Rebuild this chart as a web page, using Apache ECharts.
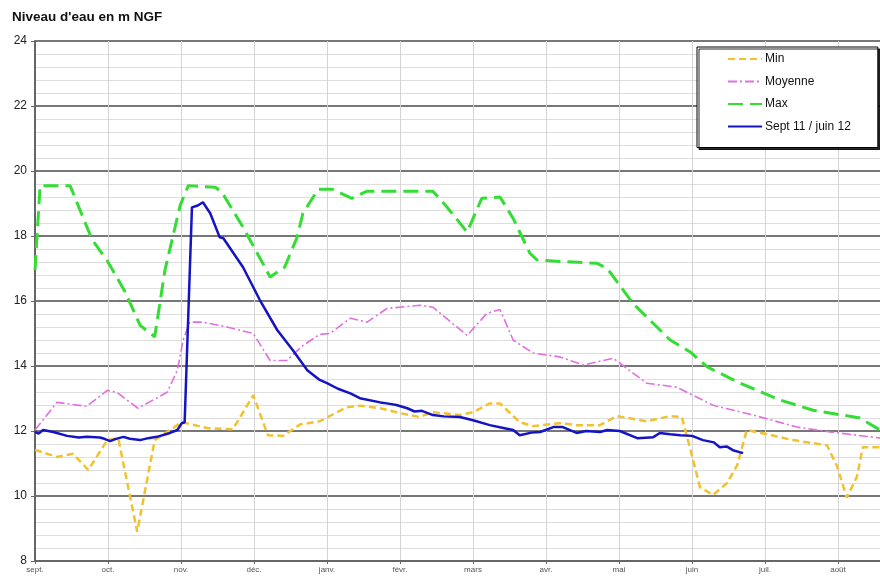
<!DOCTYPE html>
<html>
<head>
<meta charset="utf-8">
<script src="https://cdn.jsdelivr.net/npm/echarts@6/dist/echarts.min.js"></script>
<style>html,body{margin:0;padding:0;background:#fff;overflow:hidden;width:880px;height:576px}#c{width:920px;height:576px}</style>
</head>
<body>
<div id="c"></div>
<script>
// Month tick labels (x axis in months since 1 Sept)
const monthLabels = ['sept.','oct.','nov.','déc.','janv.','févr.','mars','avr.','mai','juin','juil.','août','sept.'];
const seriesNames = ['Min','Moyenne','Max','Sept 11 / juin 12'];

// [month position, level in m NGF]
const minData = [[0.00,11.42],[0.30,11.2],[0.52,11.3],[0.73,10.8],[0.99,11.72],[1.14,11.78],[1.40,8.9],[1.64,11.72],[2.01,12.27],[2.36,12.09],[2.71,12.05],[2.99,13.1],[3.19,11.87],[3.40,11.85],[3.63,12.2],[3.90,12.3],[4.27,12.73],[4.45,12.78],[4.73,12.7],[5.00,12.55],[5.27,12.43],[5.45,12.58],[5.82,12.49],[6.00,12.58],[6.23,12.85],[6.37,12.85],[6.64,12.27],[6.82,12.15],[7.19,12.24],[7.42,12.18],[7.74,12.18],[7.97,12.46],[8.38,12.3],[8.70,12.46],[8.86,12.43],[8.97,11.5],[9.11,10.27],[9.29,10.03],[9.48,10.4],[9.62,10.95],[9.75,12.03],[10.03,11.9],[10.38,11.72],[10.85,11.56],[10.99,10.9],[11.12,9.95],[11.26,10.6],[11.34,11.5],[11.60,11.5]];

const meanData = [[0.00,12.03],[0.30,12.88],[0.71,12.76],[0.99,13.25],[1.12,13.19],[1.41,12.7],[1.81,13.19],[1.95,13.87],[2.03,14.8],[2.12,15.35],[2.30,15.35],[2.63,15.2],[2.99,15.0],[3.22,14.17],[3.45,14.17],[3.67,14.63],[3.90,14.97],[4.04,15.0],[4.32,15.47],[4.55,15.35],[4.82,15.77],[5.27,15.87],[5.45,15.81],[5.92,14.94],[6.19,15.62],[6.37,15.74],[6.55,14.8],[6.82,14.4],[7.19,14.28],[7.51,14.03],[7.92,14.24],[8.38,13.47],[8.79,13.35],[9.29,12.79],[9.84,12.49],[10.44,12.12],[10.89,11.97],[11.60,11.78]];

const maxData = [[0.00,16.95],[0.07,19.55],[0.48,19.55],[0.78,17.9],[1.00,17.2],[1.23,16.3],[1.44,15.25],[1.64,14.9],[1.78,16.95],[1.99,18.95],[2.10,19.55],[2.47,19.5],[2.56,19.35],[2.85,18.27],[3.12,17.16],[3.22,16.74],[3.42,17.04],[3.59,17.96],[3.67,18.7],[3.88,19.44],[4.07,19.44],[4.34,19.16],[4.55,19.38],[5.45,19.38],[5.64,18.9],[5.92,18.12],[6.12,19.16],[6.37,19.2],[6.55,18.54],[6.78,17.47],[6.88,17.26],[7.10,17.23],[7.70,17.16],[7.84,17.0],[8.19,15.93],[8.70,14.8],[8.97,14.44],[9.21,13.97],[9.66,13.47],[10.21,12.95],[10.66,12.64],[11.30,12.4],[11.60,12.0]];

const yearData = [[0.00,11.97],[0.05,11.92],[0.11,12.03],[0.25,11.97],[0.44,11.85],[0.60,11.8],[0.71,11.82],[0.89,11.8],[0.95,11.76],[1.03,11.69],[1.10,11.75],[1.21,11.82],[1.30,11.76],[1.44,11.72],[1.55,11.78],[1.67,11.82],[1.85,11.94],[1.95,12.03],[2.01,12.24],[2.05,12.27],[2.15,18.88],[2.23,18.94],[2.30,19.04],[2.40,18.7],[2.53,17.96],[2.58,17.93],[2.85,17.04],[3.08,16.03],[3.32,15.1],[3.53,14.49],[3.73,13.87],[3.90,13.57],[4.00,13.47],[4.15,13.3],[4.32,13.16],[4.45,13.01],[4.73,12.88],[4.82,12.85],[4.95,12.8],[5.10,12.7],[5.20,12.6],[5.30,12.62],[5.45,12.49],[5.60,12.45],[5.82,12.43],[6.00,12.33],[6.23,12.18],[6.40,12.1],[6.55,12.03],[6.64,11.87],[6.80,11.95],[6.92,11.97],[7.10,12.12],[7.23,12.12],[7.42,11.94],[7.55,12.0],[7.74,11.97],[7.84,12.03],[8.01,12.0],[8.25,11.78],[8.47,11.81],[8.56,11.94],[8.70,11.9],[8.84,11.87],[9.00,11.85],[9.15,11.72],[9.30,11.65],[9.38,11.5],[9.48,11.52],[9.56,11.41],[9.70,11.32]];

const chart = echarts.init(document.getElementById('c'), null, {renderer:'canvas'});
const font = 'Liberation Sans, Arial, sans-serif';
chart.setOption({
  animation:false,
  backgroundColor:'#ffffff',
  title:{text:"Niveau d'eau en m NGF", left:12, top:10, padding:0,
    textStyle:{fontFamily:font, fontSize:13.5, fontWeight:'bold', color:'#111'}},
  grid:{left:35, width:876, top:41, height:520, containLabel:false, outerBoundsMode:'none'},
  legend:{
    data:seriesNames, orient:'vertical', left:697, top:47,
    padding:[6,27,15,30], itemGap:10.5, itemWidth:34, itemHeight:14,
    backgroundColor:'#fff', borderColor:'#000', borderWidth:1,
    shadowColor:'rgba(0,0,0,0.85)', shadowOffsetX:2, shadowOffsetY:2, shadowBlur:0,
    itemStyle:{color:'transparent', borderColor:'transparent', borderWidth:0},
    textStyle:{fontFamily:font, fontSize:12, color:'#111', padding:[0,0,0,-2]}
  },
  xAxis:{
    type:'value', min:0, max:12, interval:1,
    axisLine:{lineStyle:{color:'#666', width:2}},
    axisTick:{show:true, length:3, lineStyle:{color:'#666'}},
    axisLabel:{fontFamily:font, fontSize:8, color:'#555', margin:5,
      formatter:v=>monthLabels[Math.round(v)]},
    splitLine:{show:true, lineStyle:{color:'#d4d4d4', width:1}}
  },
  yAxis:{
    type:'value', min:8, max:24, interval:2,
    axisLine:{show:true, lineStyle:{color:'#666', width:2}},
    axisTick:{show:true, length:4, lineStyle:{color:'#666'}},
    axisLabel:{fontFamily:font, fontSize:12, color:'#222', margin:8},
    splitLine:{show:true, lineStyle:{color:'#4a4a4a', width:1.5}},
    minorTick:{show:false, splitNumber:5},
    minorSplitLine:{show:true, lineStyle:{color:'#dedede', width:1}}
  },
  series:[
    {name:seriesNames[0], type:'line', data:minData, symbol:'none', z:2,
      lineStyle:{color:'#f2c12e', width:2.5, type:[7,4]}, itemStyle:{color:'#f2c12e'}},
    {name:seriesNames[1], type:'line', data:meanData, symbol:'none', z:3,
      lineStyle:{color:'#e070e0', width:1.6, type:[9,3,2,3]}, itemStyle:{color:'#e070e0'}},
    {name:seriesNames[2], type:'line', data:maxData, symbol:'none', z:4,
      lineStyle:{color:'#33dd33', width:3, type:[15,7]}, itemStyle:{color:'#33dd33'}},
    {name:seriesNames[3], type:'line', data:yearData, symbol:'none', z:5,
      lineStyle:{color:'#1414c4', width:2.5}, itemStyle:{color:'#1414c4'}}
  ]
});
</script>
</body>
</html>
